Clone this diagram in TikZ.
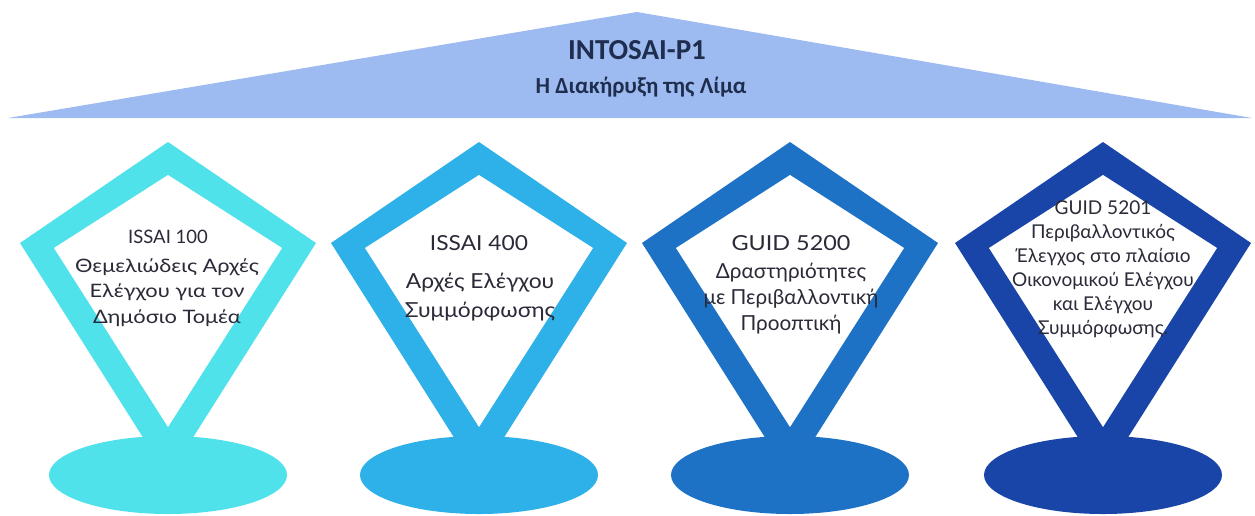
\documentclass[tikz,border=0pt]{standalone}
\usepackage{fontspec}
\setmainfont{Lato}
\newfontfamily\carlito{Carlito}
\newfontfamily\latoA[FakeStretch=1.18]{Lato}
\newfontfamily\latoB[FakeStretch=1.10]{Lato}
\newfontfamily\latoC[FakeStretch=1.13]{Lato}
\definecolor{roof}{HTML}{9DBBF0}
\definecolor{cA}{HTML}{50E2EB}
\definecolor{cB}{HTML}{2EB0E8}
\definecolor{cC}{HTML}{1E72C6}
\definecolor{cD}{HTML}{1A45A8}
\definecolor{titlecol}{HTML}{1F2D4E}
\definecolor{txt}{HTML}{2A2A38}
\tikzset{
  boxtext/.style={align=center, text=txt, inner sep=0pt},
  headtext/.style={align=center, text=titlecol, inner sep=0pt}
}
\newcommand{\kite}[2]{%
  \fill[#2] (#1,142) -- (#1+148,243) -- (#1,477) -- (#1-148,243) -- cycle;
  \fill[white] (#1,175) -- (#1+114,248) -- (#1,427) -- (#1-114,248) -- cycle;
  \fill[#2] (#1,475) ellipse [x radius=119, y radius=39];
}
\begin{document}
\begin{tikzpicture}[x=1pt,y=-1pt]
\useasboundingbox (0,0) rectangle (1255,515);
\fill[white] (0,0) rectangle (1255,515);
\fill[roof] (637,12) -- (1252,118) -- (8,118) -- cycle;
\node[headtext, font=\carlito\bfseries\fontsize{29}{32}\selectfont] (title) at (637,50) {INTOSAI-P1};
\node[headtext, font=\carlito\bfseries\fontsize{23}{26}\selectfont] (sub) at (641,87) {Η Διακήρυξη της Λίμα};
\kite{168}{cA}
\kite{479}{cB}
\kite{790}{cC}
\kite{1103}{cD}
\node[boxtext, font=\fontsize{18.5}{25.5}\selectfont] (t1) at (168,237) {ISSAI 100};
\node[boxtext, font=\latoA\fontsize{18.5}{25.5}\selectfont] (b1) at (167,292.5) {Θεμελιώδεις Αρχές\\Ελέγχου για τον\\Δημόσιο Τομέα};
\node[boxtext, font=\latoB\fontsize{20.7}{29}\selectfont] (t2) at (479,243) {ISSAI 400};
\node[boxtext, font=\latoB\fontsize{20.7}{29}\selectfont] (b2) at (480,297.5) {Αρχές Ελέγχου\\Συμμόρφωσης};
\node[boxtext, font=\latoC\fontsize{20.7}{26}\selectfont] (t3) at (791,243) {GUID 5200};
\node[boxtext, font=\fontsize{20.7}{26}\selectfont] (b3) at (791,299) {Δραστηριότητες\\με Περιβαλλοντική\\Προοπτική};
\node[boxtext, font=\fontsize{19}{24}\selectfont] (b4) at (1103,269) {GUID 5201\\Περιβαλλοντικός\\Έλεγχος στο πλαίσιο\\Οικονομικού Ελέγχου\\και Ελέγχου\\Συμμόρφωσης.};
\end{tikzpicture}
\end{document}
